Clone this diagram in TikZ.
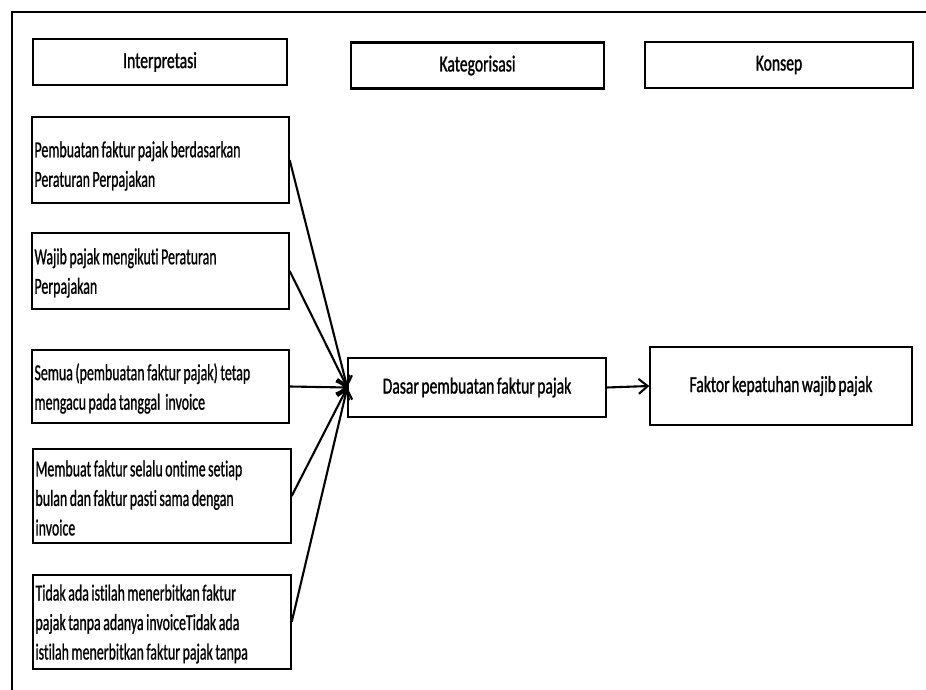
\documentclass[tikz,border=0pt]{standalone}
\usepackage{fontspec}
\setmainfont[FakeStretch=0.68, FakeBold=1.1, WordSpace=0.7, Ligatures=NoCommon]{Carlito}
\newfontfamily\itemfont[FakeStretch=0.605, FakeBold=0.8, WordSpace=0.8, Ligatures=NoCommon]{Carlito}
\usetikzlibrary{arrows.meta}

\tikzset{
  header/.style={draw, line width=2.6pt, minimum height=46pt, inner sep=0pt,
    font=\fontsize{23}{29}\selectfont},
  item/.style={draw, line width=1.4pt, minimum width=257pt, inner sep=0pt},
  itemtext/.style={anchor=west, align=left, inner sep=0pt,
    font=\itemfont\fontsize{23}{29.5}\selectfont},
  result/.style={draw, line width=1.4pt, inner sep=0pt,
    font=\fontsize{23}{29}\selectfont},
  link/.style={line width=2.1pt, -{Straight Barb[length=9pt,width=15pt,line width=2.1pt]}},
}

\begin{document}
\begin{tikzpicture}[x=1pt, y=-1pt]
  \useasboundingbox (0,0) rectangle (926,690);
  \fill[white] (0,0) rectangle (926,690);

  % open outer frame
  \draw[line width=2pt] (12,690) -- (12,12) -- (926,12);

  % column headers
  \node[header, minimum width=254pt] (interp) at (160,62) {Interpretasi};
  \node[header, minimum width=253pt] (kateg) at (477.5,65.5) {Kategorisasi};
  \node[header, minimum width=268pt] (konsep) at (779,65) {Konsep};

  % interpretation items: box, then left-aligned text inside it
  \node[item, minimum height=86pt] (i1) at (160.5,160) {};
  \node[itemtext] (t1) at ([xshift=3pt, yshift=-6pt]i1.west)
    {Pembuatan faktur pajak berdasarkan\\Peraturan Perpajakan};
  \node[item, minimum height=76pt] (i2) at (160.5,271) {};
  \node[itemtext] (t2) at ([xshift=3pt, yshift=-2pt]i2.west)
    {Wajib pajak mengikuti Peraturan\\Perpajakan};
  \node[item, minimum height=73pt] (i3) at (160.5,386.5) {};
  \node[itemtext] (t3) at ([xshift=3pt, yshift=-2pt]i3.west)
    {Semua (pembuatan faktur pajak) tetap\\mengacu pada tanggal\ \ invoice};
  \node[item, minimum height=94pt, minimum width=258pt] (i4) at (162,496) {};
  \node[itemtext] (t4) at ([xshift=3pt, yshift=-2pt]i4.west)
    {Membuat faktur selalu ontime setiap\\bulan dan faktur pasti sama dengan\\invoice};
  \node[item, minimum height=94pt, minimum width=258pt] (i5) at (162,622) {};
  \node[itemtext] (t5) at ([xshift=3pt, yshift=-2pt]i5.west)
    {Tidak ada istilah menerbitkan faktur\\pajak tanpa adanya invoiceTidak ada\\istilah menerbitkan faktur pajak tanpa};

  % category and concept
  \node[result, minimum width=258pt, minimum height=59pt] (dasar) at (477,387.5)
    {Dasar pembuatan faktur pajak};
  \node[result, minimum width=262pt, minimum height=78pt] (faktor) at (781,386)
    {Faktor kepatuhan wajib pajak};

  % connectors
  \foreach \n in {i1,i2,i3,i4,i5}
    \draw[link] (\n.east) -- (dasar.west);
  \draw[link] (dasar.east) -- (faktor.west);
\end{tikzpicture}
\end{document}
